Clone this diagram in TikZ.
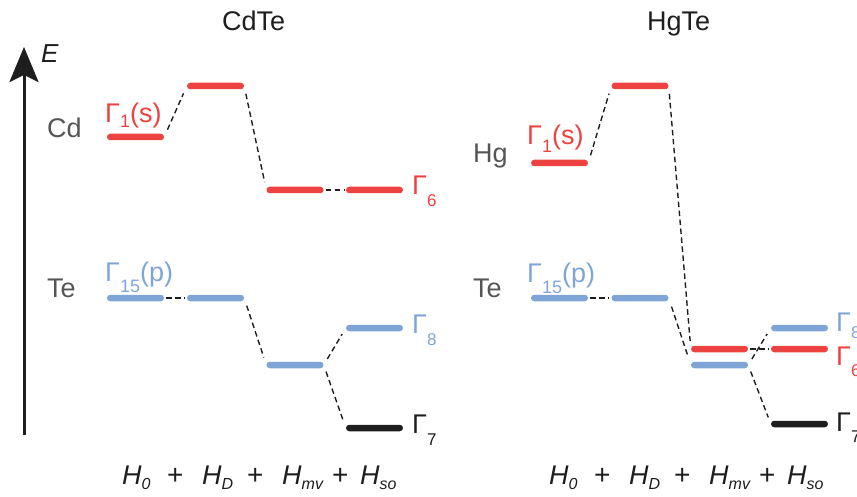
\documentclass[tikz,border=0pt]{standalone}
\usepackage{fontspec}
\setmainfont{Liberation Sans}
\usetikzlibrary{arrows.meta}
\definecolor{lvred}{RGB}{236,67,64}
\definecolor{lvblue}{RGB}{127,165,214}
\definecolor{lvblack}{RGB}{30,30,30}
\definecolor{lbgray}{RGB}{85,85,85}
\newcommand{\Gsub}[3]{Γ\raisebox{#2}{\fontsize{#3}{#3}\selectfont #1}}
\newcommand{\Hsb}[1]{H\raisebox{-5pt}{\fontsize{16}{16}\selectfont\itshape #1}}
\begin{document}
\begin{tikzpicture}[x=1pt,y=-1pt,
  lvl/.style={minimum width=57pt, minimum height=6.5pt, inner sep=0pt, rounded corners=3.2pt, draw=none},
  rl/.style={lvl, fill=lvred},
  bl/.style={lvl, fill=lvblue},
  kl/.style={lvl, fill=lvblack},
  conn/.style={draw=lvblack, line width=1.4pt, dash pattern=on 5.5pt off 3.5pt},
  lab/.style={inner sep=0pt, anchor=base west, font=\fontsize{27}{30}\selectfont},
  frm/.style={inner sep=0pt, anchor=base west, font=\fontsize{27}{29}\selectfont\itshape, text=lvblack},
  pls/.style={inner sep=0pt, anchor=base west, font=\fontsize{28}{29}\selectfont, text=lvblack}]
\useasboundingbox (0,0) rectangle (857,497);
% axis
\coordinate (ab) at (24,435);
\coordinate (at) at (24,47);
\draw[line width=3pt, draw=lvblack, -{Stealth[length=35pt,width=29pt,inset=7pt]}] (ab) -- (at);
\node[inner sep=0pt, anchor=base west, font=\fontsize{26}{26}\selectfont\itshape, text=lvblack] (elab) at (41,63) {E};
% titles
\node[lab, text=lvblack] (t1) at (222,31) {CdTe};
\node[lab, text=lvblack] (t2) at (647,31) {HgTe};
% ---------- CdTe ----------
\node[rl] (cdS)  at (135.5,137) {};
\node[rl] (cdS2) at (215.5,86) {};
\node[rl] (cdM6) at (295,190) {};
\node[rl] (cdG6) at (374.5,190) {};
\node[bl] (teP)  at (135.5,298) {};
\node[bl] (teP2) at (215.5,298) {};
\node[bl] (teM)  at (295,365) {};
\node[bl] (cdG8) at (374.5,328) {};
\node[kl] (cdG7) at (374.5,428) {};
\draw[conn, shorten <=8pt, shorten >=8pt] (cdS.east) -- (cdS2.west);
\draw[conn, shorten <=8pt, shorten >=8pt] (cdS2.east) -- (cdM6.west);
\draw[conn, shorten <=2pt, shorten >=2pt] (cdM6.east) -- (cdG6.west);
\draw[conn, shorten <=2pt, shorten >=2pt] (teP.east) -- (teP2.west);
\draw[conn, shorten <=8pt, shorten >=8pt] (teP2.east) -- (teM.west);
\draw[conn, shorten <=7pt, shorten >=7pt] (teM.east) -- (cdG8.west);
\draw[conn, shorten <=7pt, shorten >=7pt] (teM.east) -- (cdG7.west);
\node[lab, text=lbgray] (cdlab) at (47,138) {Cd};
\node[lab, text=lbgray] (telab1) at (47,298) {Te};
\node[lab, text=lvred] (g1a) at (105,123) {\Gsub{1}{-5pt}{18}(s)};
\node[lab, text=lvblue] (g15a) at (105,282) {\Gsub{15}{-10pt}{18}(p)};
\node[lab, text=lvred] (g6a) at (412,195) {\Gsub{6}{-12pt}{17}};
\node[lab, text=lvblue] (g8a) at (412,333) {\Gsub{8}{-12pt}{17}};
\node[lab, text=lvblack] (g7a) at (412,433) {\Gsub{7}{-12pt}{17}};
\node[frm] (fa1) at (122,484) {\Hsb{0}};
\node[pls] (fa2) at (167,484) {+};
\node[frm] (fa3) at (202,484) {\Hsb{D}};
\node[pls] (fa4) at (247,484) {+};
\node[frm] (fa5) at (282,484) {\Hsb{mv}};
\node[pls] (fa6) at (332,484) {+};
\node[frm] (fa7) at (360,484) {\Hsb{so}};
% ---------- HgTe ----------
\node[rl] (hgS)  at (559.5,163) {};
\node[rl] (hgS2) at (640,86) {};
\node[bl] (htP)  at (559.5,298) {};
\node[bl] (htP2) at (640,298) {};
\node[rl] (hgM6) at (719.5,349) {};
\node[bl] (hgM)  at (719.5,365) {};
\node[bl] (hgG8) at (799.5,328) {};
\node[rl] (hgG6) at (799.5,349) {};
\node[kl] (hgG7) at (799.5,424) {};
\draw[conn, shorten <=8pt, shorten >=8pt] (hgS.east) -- (hgS2.west);
\draw[conn, shorten <=8pt, shorten >=8pt] (hgS2.east) -- (hgM6.west);
\draw[conn, shorten <=2pt, shorten >=2pt] (hgM6.east) -- (hgG6.west);
\draw[conn, shorten <=2pt, shorten >=2pt] (htP.east) -- (htP2.west);
\draw[conn, shorten <=9pt, shorten >=8pt] (htP2.east) -- (hgM.west);
\draw[conn, shorten <=7pt, shorten >=7pt] (hgM.east) -- (hgG8.west);
\draw[conn, shorten <=7pt, shorten >=7pt] (hgM.east) -- (hgG7.west);
\node[lab, text=lbgray] (hglab) at (473,163) {Hg};
\node[lab, text=lbgray] (telab2) at (473,298) {Te};
\node[lab, text=lvred] (g1b) at (527,145) {\Gsub{1}{-8pt}{18}(s)};
\node[lab, text=lvblue] (g15b) at (527,283) {\Gsub{15}{-10pt}{18}(p)};
\node[lab, text=lvblue] (g8b) at (836,331) {\Gsub{8}{-7pt}{17}};
\node[lab, text=lvred] (g6b) at (836,365) {\Gsub{6}{-11pt}{17}};
\node[lab, text=lvblack] (g7b) at (836,431) {\Gsub{7}{-11pt}{17}};
\node[frm] (fb1) at (549,484) {\Hsb{0}};
\node[pls] (fb2) at (594,484) {+};
\node[frm] (fb3) at (629,484) {\Hsb{D}};
\node[pls] (fb4) at (674,484) {+};
\node[frm] (fb5) at (709,484) {\Hsb{mv}};
\node[pls] (fb6) at (759,484) {+};
\node[frm] (fb7) at (787,484) {\Hsb{so}};
\end{tikzpicture}
\end{document}
